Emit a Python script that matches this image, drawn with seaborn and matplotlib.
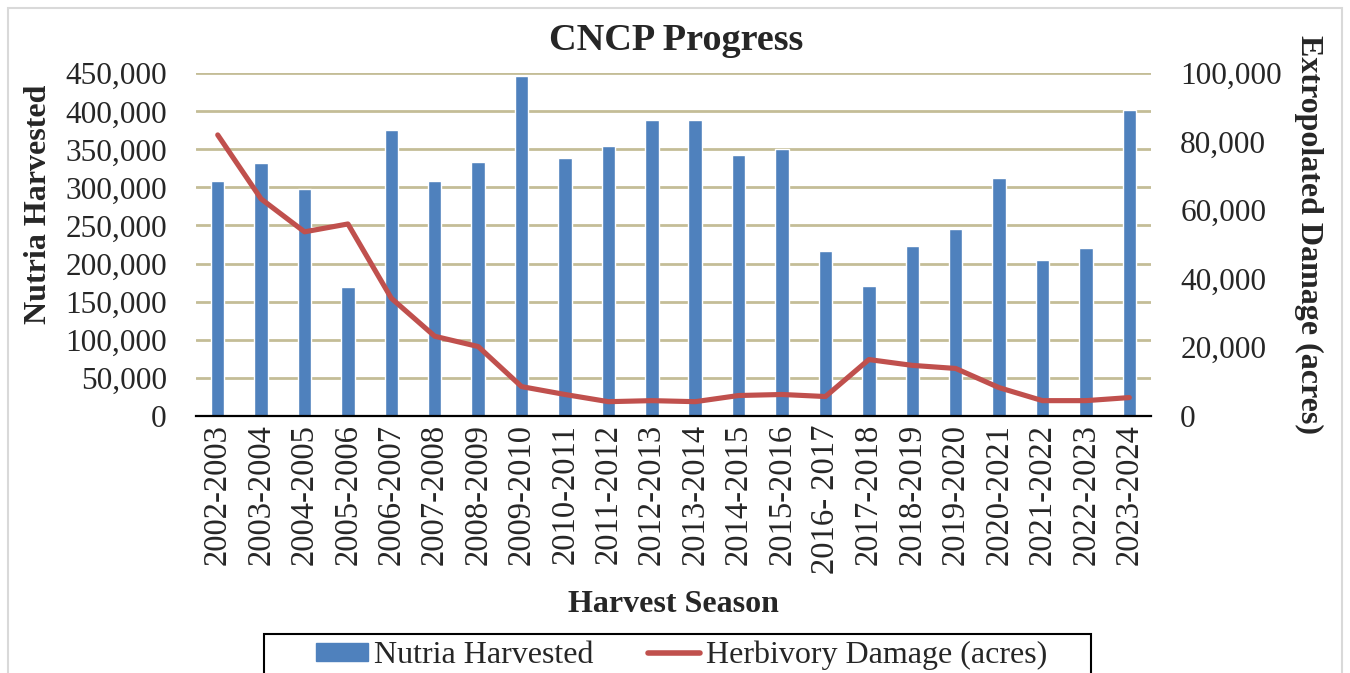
import pandas as pd
import matplotlib.pyplot as plt
import matplotlib.ticker as mticker
import seaborn as sns
from matplotlib.patches import Patch, Rectangle
from matplotlib.lines import Line2D

seasons = ["2002-2003", "2003-2004", "2004-2005", "2005-2006", "2006-2007", "2007-2008",
           "2008-2009", "2009-2010", "2010-2011", "2011-2012", "2012-2013", "2013-2014",
           "2014-2015", "2015-2016", "2016- 2017", "2017-2018", "2018-2019", "2019-2020",
           "2020-2021", "2021-2022", "2022-2023", "2023-2024"]
nutria = [308000, 332000, 298000, 169000, 376000, 309000, 334000, 446000, 339000, 355000,
          389000, 389000, 342000, 350000, 216000, 170000, 223000, 246000, 312000, 204000,
          221000, 402000]
damage = [82000, 63300, 53700, 56000, 34300, 23200, 20200, 8500, 6200, 4100, 4400, 4100,
          5900, 6200, 5600, 16400, 14700, 13800, 8200, 4400, 4400, 5300]

df = pd.DataFrame({"season": seasons, "nutria": nutria, "damage": damage})

sns.set_style("white")
plt.rcParams["font.family"] = ["Liberation Serif", "DejaVu Serif"]

blue = "#4F81BD"
red = "#C0504D"
grid = "#C4BD97"

fig = plt.figure(figsize=(13.5, 6.73), dpi=100)
ax = fig.add_axes([0.1452, 0.3823, 0.7074, 0.5088])

# bars on the left axis
sns.barplot(data=df, x="season", y="nutria", color=blue, saturation=1, width=0.31, ax=ax)
ax.set_ylim(0, 450000)
ax.yaxis.set_major_locator(mticker.MultipleLocator(50000))
ax.yaxis.set_major_formatter(mticker.StrMethodFormatter("{x:,.0f}"))
ax.yaxis.grid(True, color=grid, linewidth=2)
ax.set_axisbelow(True)
ax.set_xlim(-0.5, len(seasons) - 0.5)
ax.tick_params(axis="y", labelsize=22.5, length=0, pad=21)
ax.tick_params(axis="x", labelsize=23.5, length=0, pad=6, rotation=90)
for s in ["top", "right", "left"]:
    ax.spines[s].set_visible(False)
ax.spines["bottom"].set_color("black")
ax.spines["bottom"].set_linewidth(1.6)
ax.set_xlabel("Harvest Season", fontsize=23, fontweight="bold", labelpad=12)
ax.set_ylabel("Nutria Harvested", fontsize=23, fontweight="bold")
ax.yaxis.set_label_coords(-0.150, 0.617)

fig.text(0.5007, 1 - 50 / 673, "CNCP Progress", fontsize=27.5, fontweight="bold",
         ha="center", va="baseline")

# damage line on the right axis
ax2 = ax.twinx()
sns.lineplot(data=df, x="season", y="damage", color=red, linewidth=3.7, sort=False, ax=ax2)
ax2.set_ylim(0, 100000)
ax2.yaxis.set_major_locator(mticker.MultipleLocator(20000))
ax2.yaxis.set_major_formatter(mticker.StrMethodFormatter("{x:,.0f}"))
ax2.tick_params(axis="y", labelsize=22.5, length=0, pad=21)
for s in ["top", "right", "left", "bottom"]:
    ax2.spines[s].set_visible(False)
ax2.set_ylabel("Extropolated Damage (acres)", fontsize=23, fontweight="bold", rotation=-90)
ax2.yaxis.set_label_coords(1.180, 0.528)
ax2.set_xlim(-0.5, len(seasons) - 0.5)

# legend, with its box drawn wider like the original
handles = [Patch(facecolor=blue, edgecolor=blue),
           Line2D([0], [0], color=red, linewidth=4)]
fig.legend(handles, ["Nutria Harvested", "Herbivory Damage (acres)"],
           loc="center", bbox_to_anchor=(0.505, 0.026), ncol=2,
           fontsize=23, frameon=False, handlelength=1.63, handleheight=0.5,
           handletextpad=0.19, columnspacing=1.69, borderpad=0, borderaxespad=0)
fig.patches.append(Rectangle((264 / 1350, -0.05), 827 / 1350, 1 - 634 / 673 + 0.05,
                             transform=fig.transFigure, fill=False,
                             edgecolor="black", linewidth=1.5))

fig.patches.append(Rectangle((0.006, -0.1), 0.988, 1.088, transform=fig.transFigure,
                             fill=False, edgecolor="#D9D9D9", linewidth=1.5))

fig.savefig("out.png", dpi=100)
